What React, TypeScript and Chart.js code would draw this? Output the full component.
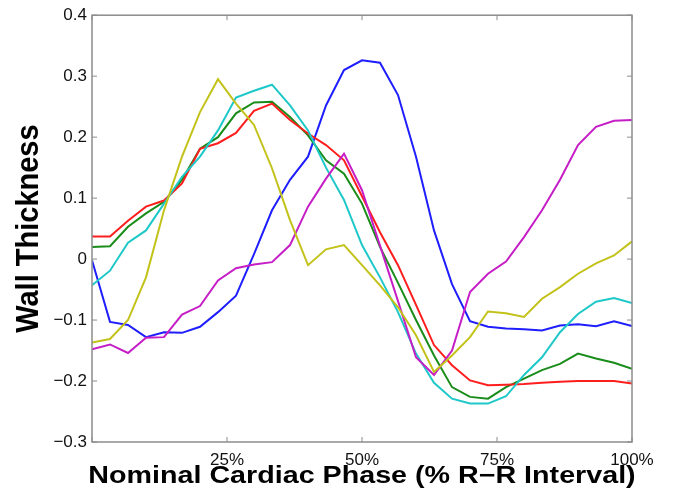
import React, { useEffect, useRef } from 'react';
import { Chart, registerables } from 'chart.js';

Chart.register(...registerables);

// Nominal cardiac phase (% of R-R interval) for each sample
const phase = [0, 3.333, 6.667, 10, 13.333, 16.667, 20, 23.333, 26.667, 30, 33.333, 36.667, 40, 43.333, 46.667, 50,
  53.333, 56.667, 60, 63.333, 66.667, 70, 73.333, 76.667, 80, 83.333, 86.667, 90, 93.333, 96.667, 100];

const blueSeries = [-0.002, -0.103, -0.108, -0.128, -0.12, -0.121, -0.111, -0.087, -0.06, 0.008, 0.08, 0.13, 0.168, 0.252, 0.31, 0.326,
  0.322, 0.269, 0.168, 0.047, -0.041, -0.102, -0.111, -0.114, -0.115, -0.117, -0.109, -0.107, -0.11, -0.102, -0.11];
const greenSeries = [0.02, 0.021, 0.053, 0.075, 0.094, 0.13, 0.181, 0.2, 0.239, 0.257, 0.258, 0.233, 0.203, 0.162, 0.14, 0.091,
  0.02, -0.039, -0.1, -0.158, -0.21, -0.226, -0.229, -0.21, -0.196, -0.182, -0.172, -0.155, -0.163, -0.17, -0.18];
const redSeries = [0.037, 0.037, 0.063, 0.086, 0.096, 0.124, 0.181, 0.19, 0.207, 0.243, 0.255, 0.228, 0.206, 0.187, 0.162, 0.103,
  0.044, -0.01, -0.075, -0.141, -0.174, -0.199, -0.207, -0.206, -0.205, -0.203, -0.201, -0.2, -0.2, -0.2, -0.204];
const cyanSeries = [-0.043, -0.019, 0.027, 0.047, 0.091, 0.135, 0.168, 0.211, 0.265, 0.276, 0.286, 0.252, 0.211, 0.15, 0.097, 0.023,
  -0.03, -0.087, -0.155, -0.203, -0.229, -0.237, -0.237, -0.225, -0.19, -0.161, -0.12, -0.09, -0.07, -0.064, -0.072];
const magentaSeries = [-0.148, -0.14, -0.154, -0.129, -0.128, -0.091, -0.077, -0.035, -0.015, -0.009, -0.005, 0.023, 0.086, 0.132, 0.173, 0.113,
  0.022, -0.069, -0.161, -0.19, -0.15, -0.054, -0.024, -0.004, 0.036, 0.08, 0.13, 0.187, 0.217, 0.227, 0.228];
const yellowSeries = [-0.137, -0.131, -0.1, -0.03, 0.08, 0.168, 0.241, 0.295, 0.255, 0.22, 0.149, 0.064, -0.01, 0.016, 0.023, -0.01,
  -0.043, -0.079, -0.125, -0.185, -0.158, -0.128, -0.086, -0.089, -0.095, -0.065, -0.046, -0.024, -0.007, 0.006, 0.029];

const xTickValues = [0, 25, 50, 75, 100];
const yTickValues = [-0.3, -0.2, -0.1, 0, 0.1, 0.2, 0.3, 0.4];

const xTitle = 'Nominal Cardiac Phase (% R\u2212R Interval)';
const yTitle = 'Wall Thickness';

const FONT = '"Liberation Sans", Arial, Helvetica, sans-serif';

const toPoints = (vals: number[]) => vals.map((v, i) => ({ x: phase[i], y: v }));

const framePlugin = {
  id: 'frameAndTitles',
  afterDatasetsDraw(chart: any) {
    const { ctx, chartArea: a, scales } = chart;
    ctx.save();
    ctx.strokeStyle = '#8c8c8c';
    ctx.lineWidth = 1.5;
    ctx.strokeRect(a.left, a.top, a.right - a.left, a.bottom - a.top);
    const len = 5;
    ctx.lineWidth = 1;
    ctx.beginPath();
    for (const v of xTickValues) {
      const px = scales.x.getPixelForValue(v);
      ctx.moveTo(px, a.bottom);
      ctx.lineTo(px, a.bottom - len);
      ctx.moveTo(px, a.top);
      ctx.lineTo(px, a.top + len);
    }
    for (const v of yTickValues) {
      const py = scales.y.getPixelForValue(v);
      ctx.moveTo(a.left, py);
      ctx.lineTo(a.left + len, py);
      ctx.moveTo(a.right, py);
      ctx.lineTo(a.right - len, py);
    }
    ctx.stroke();

    // axis titles (text slightly stretched horizontally like the reference)
    ctx.fillStyle = '#000';
    ctx.textAlign = 'center';
    ctx.textBaseline = 'middle';
    ctx.font = `bold 23.5px ${FONT}`;
    ctx.save();
    ctx.translate((a.left + a.right) / 2, 477);
    ctx.scale(1.22, 1);
    ctx.fillText(xTitle, 0, 0);
    ctx.restore();

    ctx.font = `bold 29px ${FONT}`;
    ctx.save();
    ctx.translate(30, (a.top + a.bottom) / 2);
    ctx.scale(1.05, 1);
    ctx.rotate(-Math.PI / 2);
    ctx.fillText(yTitle, 0, 0);
    ctx.restore();
    ctx.restore();
  },
};

export default function App() {
  const ref = useRef<HTMLCanvasElement | null>(null);

  useEffect(() => {
    document.body.style.margin = '0';
    const canvas = ref.current;
    if (!canvas) return;
    const mk = (label: string, vals: number[], color: string) => ({
      label,
      data: toPoints(vals),
      borderColor: color,
      backgroundColor: color,
      borderWidth: 2,
      pointRadius: 0,
      tension: 0,
      fill: false,
    });
    const chart = new Chart(canvas, {
      type: 'line',
      data: {
        datasets: [
          mk('yellow', yellowSeries, '#c2c21a'),
          mk('magenta', magentaSeries, '#c61ec6'),
          mk('cyan', cyanSeries, '#1ec8c8'),
          mk('red', redSeries, '#ff1e1e'),
          mk('green', greenSeries, '#1a8c1a'),
          mk('blue', blueSeries, '#1e1eff'),
        ],
      },
      options: {
        responsive: false,
        animation: false,
        layout: { padding: { top: 15, right: 41, left: 0, bottom: 0 } },
        plugins: { legend: { display: false }, tooltip: { enabled: false } },
        scales: {
          x: {
            type: 'linear',
            min: 0,
            max: 100,
            afterFit: (s: any) => { s.height = 58; },
            afterBuildTicks: (s: any) => { s.ticks = xTickValues.map((v) => ({ value: v })); },
            grid: { display: false, drawTicks: false },
            border: { display: false },
            ticks: {
              padding: 8,
              color: '#111',
              font: { family: FONT, size: 17 },
              maxRotation: 0,
              autoSkip: false,
              callback: (v: any) => (Number(v) === 0 ? '' : `${v}%`),
            },
          },
          y: {
            type: 'linear',
            min: -0.3,
            max: 0.4,
            afterFit: (s: any) => { s.width = 92; },
            afterBuildTicks: (s: any) => { s.ticks = yTickValues.map((v) => ({ value: v })); },
            grid: { display: false, drawTicks: false },
            border: { display: false },
            ticks: {
              padding: 5,
              color: '#111',
              font: { family: FONT, size: 17 },
              autoSkip: false,
              callback: (v: any) => {
                const r = Math.round(Number(v) * 10) / 10;
                if (r === 0) return '0';
                return r < 0 ? `\u2212${Math.abs(r)}` : `${r}`;
              },
            },
          },
        },
      },
      plugins: [framePlugin],
    });
    return () => chart.destroy();
  }, []);

  return (
    <div style={{ position: 'absolute', left: 0, top: 0, width: 673, height: 500, background: '#fff' }}>
      <canvas ref={ref} width={673} height={500} style={{ width: 673, height: 500, display: 'block' }} />
    </div>
  );
}
